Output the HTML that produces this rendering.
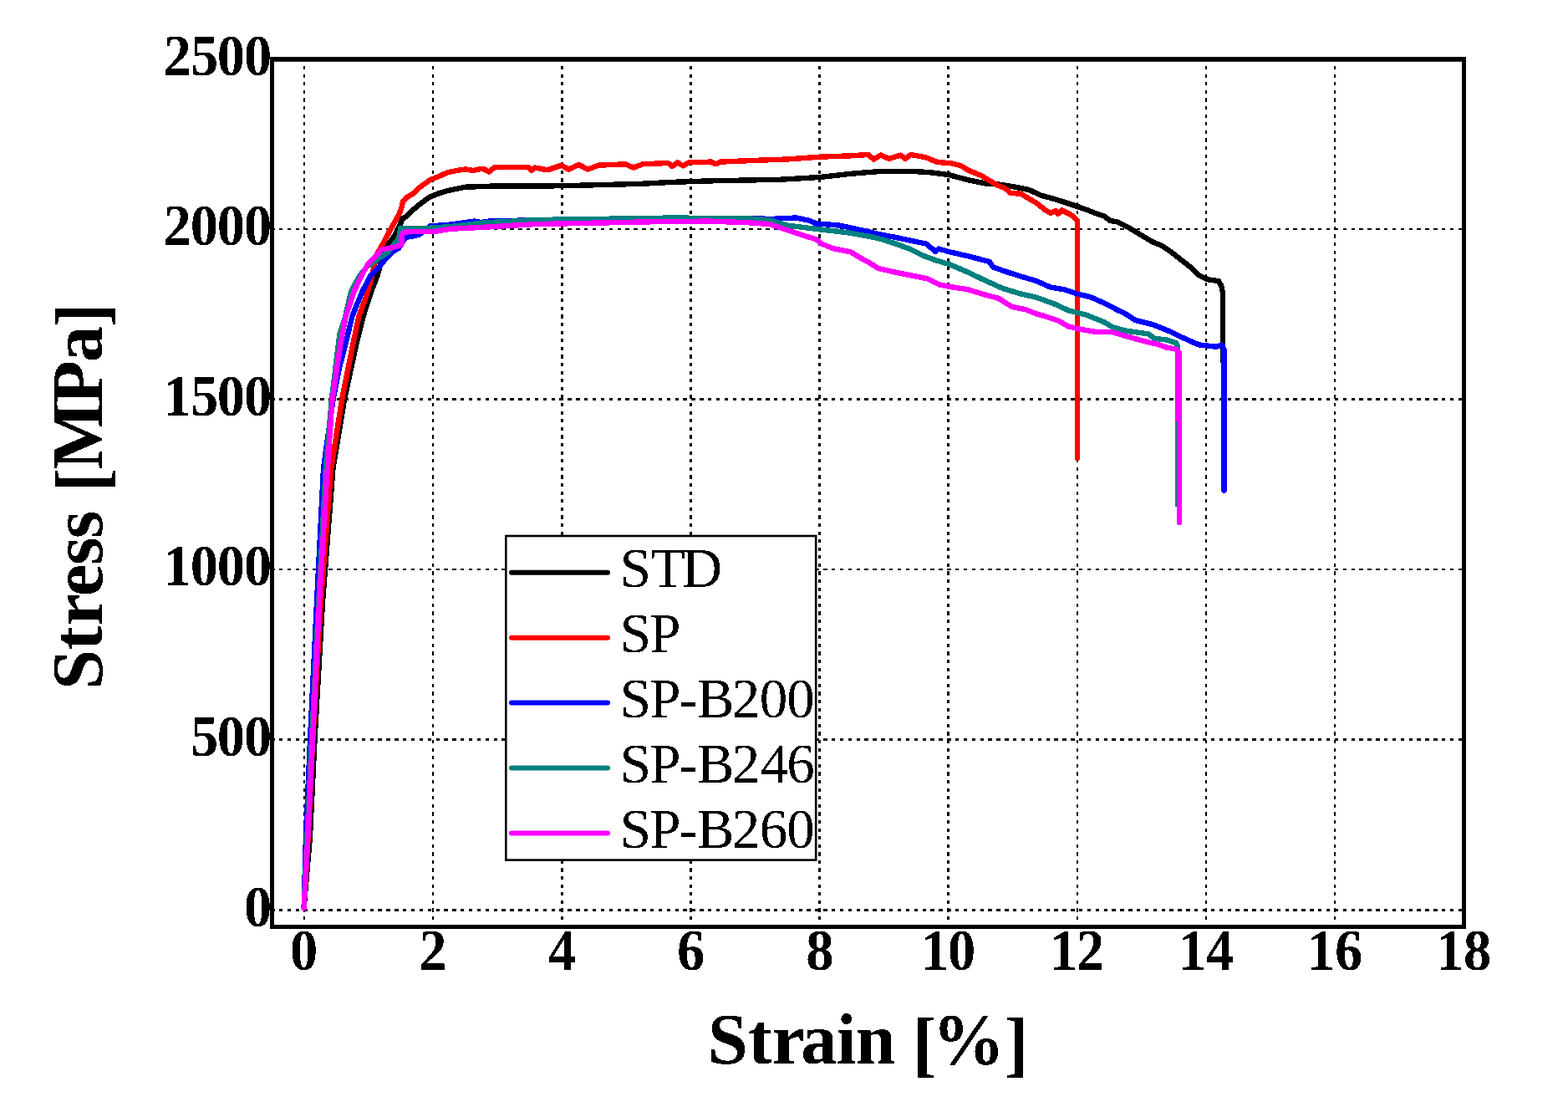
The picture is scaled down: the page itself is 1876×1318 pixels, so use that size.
<!DOCTYPE html><html><head><meta charset="utf-8"><style>html,body{margin:0;padding:0;background:#fff;overflow:hidden}svg{display:block}</style></head><body>
<svg width="1876" height="1318" viewBox="0 0 1876 1318">
<defs><filter id="bin" x="-5%" y="-5%" width="110%" height="110%"><feComponentTransfer><feFuncA type="discrete" tableValues="0 1"/></feComponentTransfer></filter></defs>
<rect width="1876" height="1318" fill="#fff"/>
<g shape-rendering="crispEdges"><line x1="363.9" y1="79" x2="363.9" y2="1106" stroke="#000" stroke-width="2.6" stroke-dasharray="4.2 5.395"/><line x1="518.06" y1="79" x2="518.06" y2="1106" stroke="#000" stroke-width="2.6" stroke-dasharray="4.2 5.395"/><line x1="672.22" y1="79" x2="672.22" y2="1106" stroke="#000" stroke-width="2.6" stroke-dasharray="4.2 5.395"/><line x1="826.38" y1="79" x2="826.38" y2="1106" stroke="#000" stroke-width="2.6" stroke-dasharray="4.2 5.395"/><line x1="980.54" y1="79" x2="980.54" y2="1106" stroke="#000" stroke-width="2.6" stroke-dasharray="4.2 5.395"/><line x1="1134.7" y1="79" x2="1134.7" y2="1106" stroke="#000" stroke-width="2.6" stroke-dasharray="4.2 5.395"/><line x1="1288.86" y1="79" x2="1288.86" y2="1106" stroke="#000" stroke-width="2.6" stroke-dasharray="4.2 5.395"/><line x1="1443.02" y1="79" x2="1443.02" y2="1106" stroke="#000" stroke-width="2.6" stroke-dasharray="4.2 5.395"/><line x1="1597.18" y1="79" x2="1597.18" y2="1106" stroke="#000" stroke-width="2.6" stroke-dasharray="4.2 5.395"/><line x1="324.2" y1="1088.3" x2="1749" y2="1088.3" stroke="#000" stroke-width="2.5" stroke-dasharray="4.4 5.465"/><line x1="324.2" y1="884.7" x2="1749" y2="884.7" stroke="#000" stroke-width="2.5" stroke-dasharray="4.4 5.465"/><line x1="324.2" y1="681.1" x2="1749" y2="681.1" stroke="#000" stroke-width="2.5" stroke-dasharray="4.4 5.465"/><line x1="324.2" y1="477.5" x2="1749" y2="477.5" stroke="#000" stroke-width="2.5" stroke-dasharray="4.4 5.465"/><line x1="324.2" y1="273.9" x2="1749" y2="273.9" stroke="#000" stroke-width="2.5" stroke-dasharray="4.4 5.465"/></g>
<path d="M363.6 1086 L371 1000 L376.5 885 L386 720 L398.5 560 L412 478 L426.7 410 L434.5 378.6 L444 349 L451.7 329.3 L457 310 L462.9 293.4 L469.3 285.9 L474.6 277.4 L478.4 269.9 L481 261.9 L485.3 259.3 L490.1 254.6 L497.6 248.2 L504 242.9 L514.6 235.4 L525.3 231.2 L536 228 L546.6 225.8 L557.3 223.7 L589.3 222.6 L640 222.7 L681.6 222 L723.2 221 L764.7 219.9 L806.3 217.8 L847.9 216.4 L900 215.4 L934.7 214.7 L980.4 212 L1017.8 207.8 L1052.5 205 L1094 205 L1114.8 206.4 L1135.6 209.2 L1159.2 215.5 L1178.4 219.3 L1197.6 220.8 L1216.8 224.1 L1231.2 227 L1245.6 233.7 L1264.8 239 L1284 245.3 L1300 250.8 L1309.9 254.8 L1321.7 258.7 L1327.6 263.7 L1337.5 265.6 L1349.3 271.6 L1359.2 277.5 L1369 283.4 L1378.9 289.3 L1390.7 294.2 L1403.6 303.1 L1413.4 311 L1426.2 320.9 L1435.1 329.7 L1445 334.2 L1457.8 336.2 L1461.2 341.6 L1463 350.5 L1463 432" fill="none" stroke="#000000" stroke-width="6.4" stroke-linejoin="round" stroke-linecap="round" shape-rendering="crispEdges"/>
<path d="M363.6 1086 L368.8 1000 L374.3 885 L383.8 720 L396.3 560 L409 478 L422.6 410 L429.3 378.6 L440 349 L446 326 L451 304 L459.2 289.6 L466.7 275.3 L474.3 261.9 L478 255 L480.5 248 L482 241 L486 236.5 L493.3 232.2 L504 222.6 L514.6 215.2 L525.3 210.9 L536 206.1 L546.6 204 L557.3 202.4 L565.8 204 L572 202.5 L578.6 201.9 L585 205.6 L591.4 200.3 L610.6 199.7 L631.9 199.7 L636.2 204 L640 200.5 L655.2 203.3 L671.9 197.7 L680.2 202.6 L692.7 197 L703.1 202.6 L716.2 197.7 L748.1 196.3 L757.8 200.5 L768.9 196.3 L799.4 195 L804.2 199.1 L810.5 194.3 L817.4 198.4 L824.3 194.3 L850.7 193.6 L856.2 196.3 L861.8 193.6 L900 192 L941.6 190.5 L980.4 187.7 L1017.8 186.3 L1038.6 185 L1045.5 190.5 L1053.8 185.6 L1063.5 189.8 L1077.4 185.6 L1083 189.8 L1089.9 185 L1107.9 188.4 L1121.8 194 L1138.4 195.3 L1149.6 198.2 L1159.2 204 L1173.6 209.8 L1183.2 215.5 L1192.8 221.3 L1202.4 225.1 L1209.1 230.9 L1221.6 231.8 L1231.2 237.6 L1240.8 243.3 L1250.4 251 L1257.1 254.9 L1262.8 252 L1265.7 255.8 L1270.5 251.5 L1279.2 255.8 L1284 258.7 L1289 263.5 L1289 547.7" fill="none" stroke="#ff0000" stroke-width="6.4" stroke-linejoin="round" stroke-linecap="round" shape-rendering="crispEdges"/>
<path d="M363.6 1086 L366 1000 L371 885 L379 720 L387 560 L398.5 478 L406 440 L413.8 410 L421.3 378.6 L433.2 349 L443.5 329.3 L454.9 317.9 L462.4 308.3 L469.3 301.4 L477.3 296.6 L485.3 283.8 L493.3 282.7 L501.3 280.6 L508 276 L514.6 270.5 L540 268.5 L567.9 264.5 L575 266 L589.3 264 L640 263.5 L700 263 L800 262 L900 261 L920.8 262 L952.7 260.5 L969.3 264 L976.2 267.4 L1004 269.5 L1038.6 277 L1050.7 280 L1072 284 L1093.3 288.5 L1107.9 291.5 L1114.6 297 L1118.9 300.8 L1123.2 297.6 L1136 301.3 L1157.3 306.1 L1183.9 313 L1188.2 319.4 L1199.9 323.7 L1221.2 330.6 L1240 336 L1256.7 343.5 L1272.6 346.1 L1288.6 351.4 L1304.6 355.2 L1323.8 363.7 L1336.6 370.6 L1345.1 374.4 L1357.9 382.9 L1379.3 388.2 L1400.6 396.8 L1411.2 402.1 L1430 410.6 L1435 412.5 L1454.8 414.7 L1462 412.5 L1464.5 418 L1464.5 586.6" fill="none" stroke="#0000ff" stroke-width="6.4" stroke-linejoin="round" stroke-linecap="round" shape-rendering="crispEdges"/>
<path d="M363.6 1086 L367.5 1000 L373 885 L381.3 720 L389.8 560 L396.8 478 L406.3 400 L412.8 380 L420 349 L430 330 L440 318 L448 313 L456 307 L464 301.9 L472 291.2 L477.3 284.9 L479.4 272.6 L482.6 273.5 L509.3 273 L540 271 L578.6 266.4 L610.6 264.8 L640 263 L709.3 262 L806.3 260.5 L900 261.6 L920.8 263.3 L941.6 269.5 L969.3 273 L1010.9 277.8 L1040 282.7 L1056 286.4 L1072 291.7 L1088 297.6 L1104 305.6 L1120 311.4 L1136 316.2 L1157.3 325.3 L1178.6 335.4 L1199.9 345 L1221.2 351.4 L1240 355.7 L1262 363.7 L1278 371.2 L1299.3 376.5 L1320.6 385 L1331.3 391.4 L1347.3 395.7 L1373.9 399.4 L1381.4 404.8 L1395.2 406.4 L1407 410.1 L1409.1 413.8 L1409.1 603.5" fill="none" stroke="#008080" stroke-width="6.4" stroke-linejoin="round" stroke-linecap="round" shape-rendering="crispEdges"/>
<path d="M363.6 1086 L368.4 1000 L374 885 L382 720 L390.5 580 L397.5 478 L407.6 410 L413.7 378.6 L423.4 349 L432.7 329.3 L440 316.3 L445.3 311 L450.7 305.6 L456 298.7 L466.7 296.6 L477.3 293.9 L480.5 292.3 L480.5 281.7 L482.6 277.9 L493.3 276.9 L520 276.9 L540 273.7 L578.6 271.8 L640 268.1 L709.3 266.7 L778.6 265.3 L847.9 264.6 L889.5 266 L900 266.5 L920.8 268.1 L941.6 275 L962.4 282 L976.2 286.1 L983.2 291.7 L997 297.2 L1017.8 301.4 L1031.7 309.7 L1040 314.1 L1050.7 321 L1072 325.8 L1093.3 330.1 L1109.3 333.3 L1123.2 340.2 L1136 342.9 L1157.3 346.1 L1178.6 352.5 L1194.6 356.8 L1210.6 366.9 L1226.6 370.1 L1240 375.4 L1251.3 378.6 L1267.3 384 L1278 390.4 L1294 394.1 L1310 396.8 L1331.3 397.3 L1347.3 402.1 L1368.6 408 L1384.6 411.7 L1395.2 415.4 L1405.9 417.5 L1410.5 421.3 L1411 625" fill="none" stroke="#ff00ff" stroke-width="6.4" stroke-linejoin="round" stroke-linecap="round" shape-rendering="crispEdges"/>
<rect x="605.3" y="641" width="370.9" height="387.6" fill="#fff" stroke="#000" stroke-width="2.6"/>
<line x1="612" y1="684.8" x2="727" y2="684.8" stroke="#000000" stroke-width="6" stroke-linecap="round"/>
<text filter="url(#bin)" x="741.7" y="702" dx="0 -0.1 -4" font-family="Liberation Serif, serif" font-size="67" fill="#000">STD</text>
<line x1="612" y1="762.7" x2="727" y2="762.7" stroke="#ff0000" stroke-width="6" stroke-linecap="round"/>
<text filter="url(#bin)" x="741.7" y="779.9" dx="0 -1.7" font-family="Liberation Serif, serif" font-size="67" fill="#000">SP</text>
<line x1="612" y1="840.6" x2="727" y2="840.6" stroke="#0000ff" stroke-width="6" stroke-linecap="round"/>
<text filter="url(#bin)" x="741.7" y="857.8" dx="0 -1.7 -2.3 -0.7 -2.7 -0.7 -1" font-family="Liberation Serif, serif" font-size="67" fill="#000">SP-B200</text>
<line x1="612" y1="918.5" x2="727" y2="918.5" stroke="#008080" stroke-width="6" stroke-linecap="round"/>
<text filter="url(#bin)" x="741.7" y="935.7" dx="0 -1.7 -2.3 -0.7 -2.7 0.6 -2.3" font-family="Liberation Serif, serif" font-size="67" fill="#000">SP-B246</text>
<line x1="612" y1="996.4" x2="727" y2="996.4" stroke="#ff00ff" stroke-width="6" stroke-linecap="round"/>
<text filter="url(#bin)" x="741.7" y="1013.6" dx="0 -1.7 -2.3 -0.7 -2.7 -0.7 -1" font-family="Liberation Serif, serif" font-size="67" fill="#000">SP-B260</text>
<rect x="323" y="68" width="1431" height="5.8" fill="#000"/><rect x="323" y="1106" width="1431" height="5" fill="#000"/><rect x="323" y="68" width="5" height="1043" fill="#000"/><rect x="1749" y="68" width="5" height="1043" fill="#000"/>
<g filter="url(#bin)"><text transform="scale(0.97 1.023)" x="300.95" y="1082.8" font-family="Liberation Serif, serif" font-weight="bold" font-size="68.5">0</text><text transform="scale(0.97 1.023)" x="235.08 267.86 300.95" y="883.77" font-family="Liberation Serif, serif" font-weight="bold" font-size="68.5">500</text><text transform="scale(0.97 1.023)" x="201.48 234.77 267.86 300.95" y="684.75" font-family="Liberation Serif, serif" font-weight="bold" font-size="68.5">1000</text><text transform="scale(0.97 1.023)" x="201.48 235.08 267.86 300.95" y="485.73" font-family="Liberation Serif, serif" font-weight="bold" font-size="68.5">1500</text><text transform="scale(0.97 1.023)" x="201.66 234.77 267.86 300.95" y="286.71" font-family="Liberation Serif, serif" font-weight="bold" font-size="68.5">2000</text><text transform="scale(0.97 1.023)" x="201.66 235.08 267.86 300.95" y="87.68" font-family="Liberation Serif, serif" font-weight="bold" font-size="68.5">2500</text><text transform="scale(0.97 1.023)" x="357.81" y="1133.53" font-family="Liberation Serif, serif" font-weight="bold" font-size="68.5">0</text><text transform="scale(0.97 1.023)" x="516.72" y="1133.53" font-family="Liberation Serif, serif" font-weight="bold" font-size="68.5">2</text><text transform="scale(0.97 1.023)" x="676.16" y="1133.53" font-family="Liberation Serif, serif" font-weight="bold" font-size="68.5">4</text><text transform="scale(0.97 1.023)" x="835.09" y="1133.53" font-family="Liberation Serif, serif" font-weight="bold" font-size="68.5">6</text><text transform="scale(0.97 1.023)" x="994.02" y="1133.53" font-family="Liberation Serif, serif" font-weight="bold" font-size="68.5">8</text><text transform="scale(0.97 1.023)" x="1135.71 1168.99" y="1133.53" font-family="Liberation Serif, serif" font-weight="bold" font-size="68.5">10</text><text transform="scale(0.97 1.023)" x="1294.64 1327.91" y="1133.53" font-family="Liberation Serif, serif" font-weight="bold" font-size="68.5">12</text><text transform="scale(0.97 1.023)" x="1453.57 1487.35" y="1133.53" font-family="Liberation Serif, serif" font-weight="bold" font-size="68.5">14</text><text transform="scale(0.97 1.023)" x="1612.49 1646.28" y="1133.53" font-family="Liberation Serif, serif" font-weight="bold" font-size="68.5">16</text><text transform="scale(0.97 1.023)" x="1771.42 1805.21" y="1133.53" font-family="Liberation Serif, serif" font-weight="bold" font-size="68.5">18</text></g>
<text filter="url(#bin)" x="846.8" y="1272.3" dx="0 0.1 -0 -4.1 -1 -1 0 -2 -4.8 -0.1" dy="0 0 0 0 0 0 0 4.8 -4.8 4.8" font-family="Liberation Serif, serif" font-weight="bold" font-size="86.6">Strain [%]</text>
<g filter="url(#bin)"><text transform="translate(121.8 825) rotate(-90)" x="0" y="0" dx="0 -0.9 0.4 -1.7 -1.1 -1.9 0 0.2 -1.6 -4.4 -2.1 -1.1" dy="0 0 0 0 0 0 0 4.6 -4.6 0 0 4.6" font-family="Liberation Serif, serif" font-weight="bold" font-size="86.6">Stress [MPa]</text></g>
</svg></body></html>
